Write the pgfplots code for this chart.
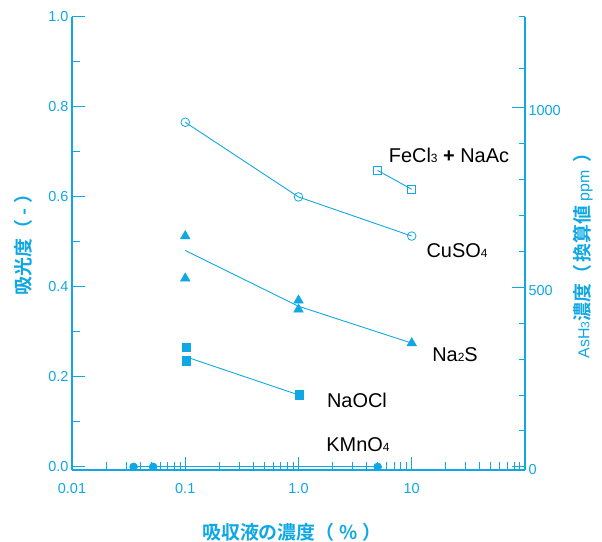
\documentclass[border=0pt]{standalone}
\usepackage{pgfplots}
\pgfplotsset{compat=1.18}
\usepackage{fontspec}
\setmainfont{Liberation Sans}
\newfontfamily\cjk{Noto Sans CJK JP}[BoldFont={Noto Sans CJK JP Bold}]
\definecolor{cy}{RGB}{16,168,228}
\newcommand\sub[1]{{\fontsize{12}{12}\selectfont #1}}
\begin{document}
\begin{tikzpicture}
\useasboundingbox (0,0) rectangle (602bp,542bp);
\begin{axis}[
  at={(72bp,72bp)}, anchor=south west,
  scale only axis, width=453bp, height=453bp,
  xmode=log, xmin=0.01, xmax=100,
  ymin=-0.007, ymax=1.0,
  axis x line*=bottom, axis y line*=left,
  axis line style={cy, line width=1.3pt, -},
  xtick={0.01,0.1,1,10}, xticklabels={0.01,0.1,1.0,10},
  minor xtick={0.02,0.03,0.04,0.05,0.06,0.07,0.08,0.09,0.2,0.3,0.4,0.5,0.6,0.7,0.8,0.9,2,3,4,5,6,7,8,9,20,30,40,50,60,70,80,90},
  ytick={0,0.2,0.4,0.6,0.8,1.0}, yticklabels={0.0,0.2,0.4,0.6,0.8,1.0},
  minor ytick={0.1,0.3,0.5,0.7,0.9},
  tick align=inside,
  x tick style={cy, line width=1pt},
  y tick style={cy, line width=1pt},
  major tick length=13bp, minor tick length=8bp,
  ticklabel style={cy, font=\fontsize{14.5}{14.5}\selectfont},
  xticklabel style={yshift=-10bp},
  clip=false,
]
% CuSO4
\addplot[cy, line width=0.9pt, mark=o, mark size=4.3bp, mark options={fill=white, line width=0.8pt}] coordinates {(0.1,0.766) (1,0.600) (10,0.513)};
% Na2S line and marks
\addplot[cy, line width=0.9pt] coordinates {(0.1,0.481) (1,0.357) (10,0.275)};
\addplot[cy, only marks, mark=triangle*, mark size=5.6bp] coordinates {(0.1,0.513) (0.1,0.419) (1,0.370) (1,0.350) (10,0.275)};
% NaOCl
\addplot[cy, line width=0.9pt] coordinates {(0.1,0.245) (1,0.160)};
\addplot[cy, only marks, mark=square*, mark size=4.2bp] coordinates {(0.102,0.266) (0.102,0.236) (1.01,0.160)};
% FeCl3 + NaAc
\addplot[cy, line width=0.9pt, mark=square, mark size=4bp, mark options={line width=0.8pt}] coordinates {(5,0.659) (10,0.617)};
% KMnO4
\addplot[cy, line width=0.9pt, mark=*, mark size=3.8bp] coordinates {(0.035,0) (0.052,0) (5,0)};
\end{axis}
\begin{axis}[
  at={(72bp,72bp)}, anchor=south west,
  scale only axis, width=453bp, height=453bp,
  xmode=log, xmin=0.01, xmax=100,
  ymin=-8.8, ymax=1253,
  hide x axis,
  axis y line*=right,
  axis line style={cy, line width=1.3pt, -},
  ytick={0,500,1000}, yticklabels={0,500,1000},
  minor ytick={100,200,300,400,600,700,800,900,1110,1253},
  tick align=inside,
  y tick style={cy, line width=1pt},
  major tick length=13bp, minor tick length=6bp,
  ticklabel style={cy, font=\fontsize{14.5}{14.5}\selectfont},
  yticklabel style={yshift=-3bp},
]
\end{axis}
% annotations
\begin{scope}[every node/.style={font=\fontsize{20}{20}\selectfont, text=black, inner sep=0pt}]
\node at (449bp,387bp) {FeCl\sub{3} \textbf{+} NaAc};
\node at (457bp,291bp) {CuSO\sub{4}};
\node at (455bp,187bp) {Na\sub{2}S};
\node at (357bp,142bp) {NaOCl};
\node at (358bp,97bp) {KMnO\sub{4}};
\end{scope}
\node[rotate=90, text=cy, font=\fontsize{19}{19}\selectfont\cjk\bfseries, inner sep=0pt] at (23bp,302bp) {吸光度（ - ）};
\node[text=cy, font=\fontsize{19}{19}\selectfont\cjk\bfseries, inner sep=0pt] at (292bp,10bp) {吸収液の濃度（\hspace{5bp}\%\hspace{5bp}）};
\node[rotate=90, text=cy, font=\fontsize{16}{16}\selectfont, inner sep=0pt] at (583bp,291bp) {AsH\sub{3}{\cjk\bfseries\fontsize{19}{19}\selectfont 濃度（\hspace{2bp}換算値} ppm{\cjk\bfseries\fontsize{19}{19}\selectfont\hspace{8bp}）}};
\end{tikzpicture}
\end{document}
